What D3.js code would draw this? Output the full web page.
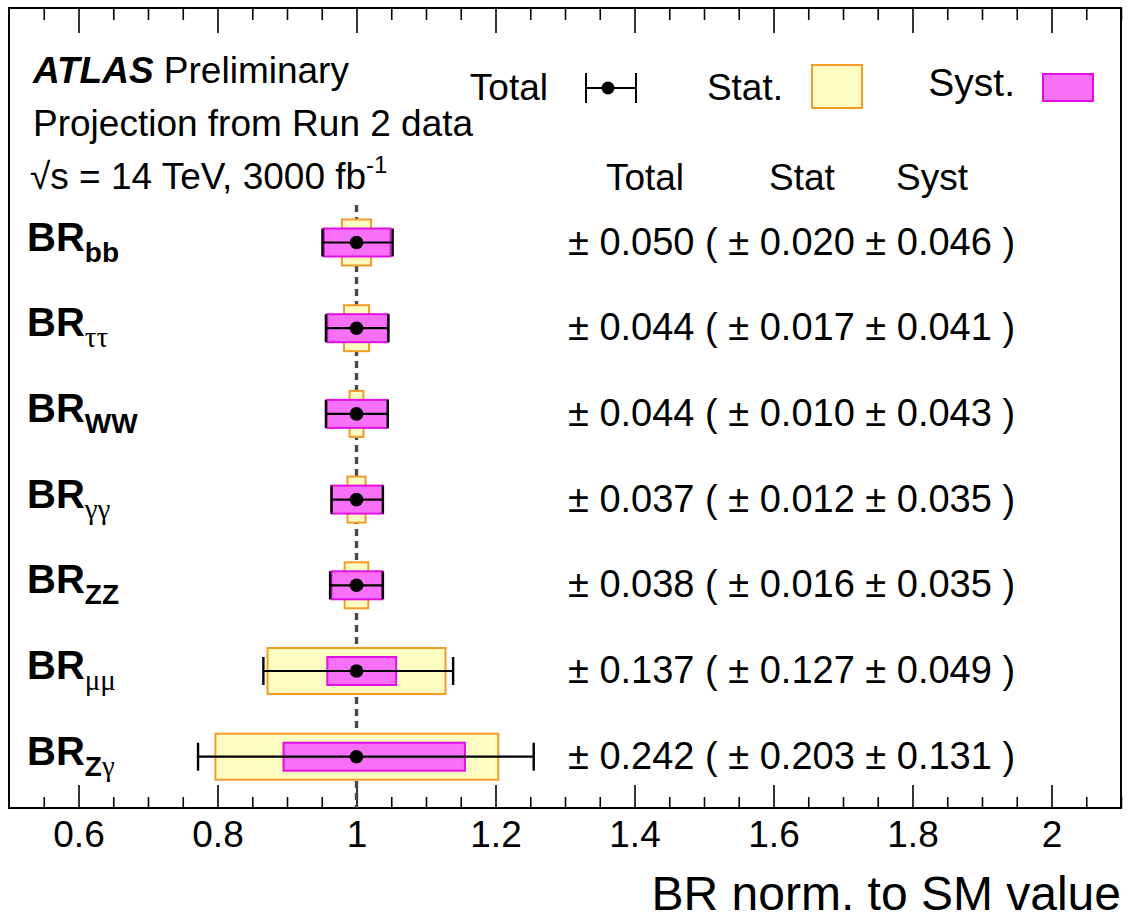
<!DOCTYPE html>
<html>
<head>
<meta charset="utf-8">
<script src="https://cdn.jsdelivr.net/npm/d3@7"></script>
<style>
  body { margin: 0; background: #fff; }
  svg text { font-family: "Liberation Sans", Arial, Helvetica, sans-serif; fill: #000; }
  .domain { display: none; }
</style>
</head>
<body>
<svg id="chart"></svg>
<script>
// 数据：各衰变道的投影不确定度
const channels = ["bb", "ττ", "WW", "γγ", "ZZ", "μμ", "Zγ"];
const central = [1, 1, 1, 1, 1, 1, 1];
const totalLo = [0.049, 0.044, 0.044, 0.036, 0.038, 0.134, 0.228];
const totalHi = [0.052, 0.046, 0.045, 0.038, 0.038, 0.139, 0.255];
const statLo = [0.021, 0.018, 0.010, 0.013, 0.017, 0.128, 0.203];
const statHi = [0.021, 0.018, 0.010, 0.013, 0.017, 0.128, 0.204];
const systLo = [0.047, 0.042, 0.043, 0.036, 0.036, 0.042, 0.105];
const systHi = [0.049, 0.045, 0.045, 0.038, 0.037, 0.057, 0.156];
const totalTxt = ["0.050", "0.044", "0.044", "0.037", "0.038", "0.137", "0.242"];
const statTxt = ["0.020", "0.017", "0.010", "0.012", "0.016", "0.127", "0.203"];
const systTxt = ["0.046", "0.041", "0.043", "0.035", "0.035", "0.049", "0.131"];
const majorTicks = [0.6, 0.8, 1, 1.2, 1.4, 1.6, 1.8, 2];

(function () {
  const W = 1128, H = 921;
  const frame = { left: 9, right: 1121, top: 8, bottom: 808 };
  const statColor = { fill: "#fdfdc2", stroke: "#f39a2a" };
  const systColor = { fill: "#f870f8", stroke: "#e010e0" };
  const fs = 37;

  const svg = d3.select("#chart").attr("width", W).attr("height", H);

  const x = d3.scaleLinear().domain([0.5, 2.1]).range([frame.left, frame.right]);
  const y = d3.scalePoint().domain(channels).range([242.5, 756.7]);

  // 次刻度
  const minorTicks = d3.range(11, 43).map((i) => +(i * 0.05).toFixed(2))
    .filter((v) => !majorTicks.some((m) => Math.abs(m - v) < 1e-6));

  // 下方坐标轴
  const bottomAxis = svg.append("g").attr("transform", `translate(0,${frame.bottom})`);
  bottomAxis.append("g")
    .call(d3.axisBottom(x).tickValues(minorTicks).tickSize(-11).tickFormat(""))
    .selectAll("line").attr("stroke", "#000").attr("stroke-width", 1.6);
  const bMajor = bottomAxis.append("g")
    .call(d3.axisBottom(x).tickValues(majorTicks).tickSize(-23).tickPadding(13)
      .tickFormat(d3.format("~g")));
  bMajor.selectAll("line").attr("stroke", "#000").attr("stroke-width", 1.6);
  bMajor.selectAll("text").attr("font-size", 37).attr("font-family", "Liberation Sans");

  // 上方坐标轴
  const topAxis = svg.append("g").attr("transform", `translate(0,${frame.top})`);
  topAxis.append("g")
    .call(d3.axisTop(x).tickValues(minorTicks).tickSize(-12).tickFormat(""))
    .selectAll("line").attr("stroke", "#000").attr("stroke-width", 1.6);
  topAxis.append("g")
    .call(d3.axisTop(x).tickValues(majorTicks).tickSize(-25).tickFormat(""))
    .selectAll("line").attr("stroke", "#000").attr("stroke-width", 1.6);

  // 外框
  svg.append("rect")
    .attr("x", frame.left).attr("y", frame.top)
    .attr("width", frame.right - frame.left).attr("height", frame.bottom - frame.top)
    .attr("fill", "none").attr("stroke", "#000").attr("stroke-width", 2);

  // SM 参考虚线
  svg.append("line")
    .attr("x1", x(1)).attr("x2", x(1))
    .attr("y1", 205).attr("y2", frame.bottom)
    .attr("stroke", "#4a4a4a").attr("stroke-width", 3.4).attr("stroke-dasharray", "7,5");

  const rows = channels.map((c, i) => ({
    c, v: central[i],
    tl: totalLo[i], th: totalHi[i],
    sl: statLo[i], sh: statHi[i],
    yl: systLo[i], yh: systHi[i],
  }));

  const g = svg.append("g");

  // Stat 框
  g.selectAll(".stat").data(rows).enter().append("rect")
    .attr("class", "stat")
    .attr("x", (d) => x(d.v - d.sl))
    .attr("width", (d) => x(d.v + d.sh) - x(d.v - d.sl))
    .attr("y", (d) => y(d.c) - 23).attr("height", 46)
    .attr("fill", statColor.fill).attr("stroke", statColor.stroke).attr("stroke-width", 2);

  // Syst 框
  g.selectAll(".syst").data(rows).enter().append("rect")
    .attr("class", "syst")
    .attr("x", (d) => x(d.v - d.yl))
    .attr("width", (d) => x(d.v + d.yh) - x(d.v - d.yl))
    .attr("y", (d) => y(d.c) - 14).attr("height", 28)
    .attr("fill", systColor.fill).attr("stroke", systColor.stroke).attr("stroke-width", 2);

  // 总误差棒
  g.selectAll(".tot").data(rows).enter().append("line")
    .attr("x1", (d) => x(d.v - d.tl)).attr("x2", (d) => x(d.v + d.th))
    .attr("y1", (d) => y(d.c)).attr("y2", (d) => y(d.c))
    .attr("stroke", "#000").attr("stroke-width", 2.2);
  ["tl", "th"].forEach((k) => {
    g.selectAll(".cap-" + k).data(rows).enter().append("line")
      .attr("x1", (d) => x(k === "tl" ? d.v - d.tl : d.v + d.th))
      .attr("x2", (d) => x(k === "tl" ? d.v - d.tl : d.v + d.th))
      .attr("y1", (d) => y(d.c) - 14).attr("y2", (d) => y(d.c) + 14)
      .attr("stroke", "#000").attr("stroke-width", 2.4);
  });
  g.selectAll(".pt").data(rows).enter().append("circle")
    .attr("cx", (d) => x(d.v)).attr("cy", (d) => y(d.c)).attr("r", 6.8).attr("fill", "#000");

  // 通道标签
  const isGreek = (ch) => /[\u0370-\u03ff]/.test(ch);
  rows.forEach((d) => {
    const t = svg.append("text").attr("x", 27).attr("y", y(d.c) + 8);
    t.append("tspan").attr("font-weight", "bold").attr("font-size", 40).text("BR");
    const chars = [...d.c];
    chars.forEach((ch, j) => {
      const s = t.append("tspan").attr("dy", j === 0 ? 11 : 0);
      if (isGreek(ch)) s.attr("font-family", "Liberation Serif").attr("font-size", 29).text(ch);
      else s.attr("font-weight", "bold").attr("font-size", 28).text(ch);
    });
  });

  // 数值文字
  rows.forEach((d, i) => {
    svg.append("text").attr("x", 568).attr("y", y(d.c) + 12)
      .attr("font-size", 38)
      .text(`\u00b1 ${totalTxt[i]} ( \u00b1 ${statTxt[i]} \u00b1 ${systTxt[i]} )`);
  });

  // 列标题
  [["Total", 645], ["Stat", 802], ["Syst", 932]].forEach(([s, cx]) => {
    svg.append("text").attr("x", cx).attr("y", 190).attr("text-anchor", "middle")
      .attr("font-size", fs).text(s);
  });

  // ATLAS 标签
  const h1 = svg.append("text").attr("x", 33).attr("y", 83).attr("font-size", fs);
  h1.append("tspan").attr("font-weight", "bold").attr("font-style", "italic").text("ATLAS");
  h1.append("tspan").text(" Preliminary");
  svg.append("text").attr("x", 33).attr("y", 136).attr("font-size", fs).text("Projection from Run 2 data");
  const h3 = svg.append("text").attr("x", 30).attr("y", 189).attr("font-size", fs);
  h3.append("tspan").text("\u221as = 14 TeV, 3000 fb");
  h3.append("tspan").attr("font-size", 24).attr("dy", -16).text("-1");

  // 图例
  svg.append("text").attr("x", 548).attr("y", 100).attr("text-anchor", "end")
    .attr("font-size", fs).text("Total");
  const lg = svg.append("g");
  lg.append("line").attr("x1", 586).attr("x2", 636).attr("y1", 88).attr("y2", 88)
    .attr("stroke", "#000").attr("stroke-width", 2);
  [586, 636].forEach((cx) => {
    lg.append("line").attr("x1", cx).attr("x2", cx).attr("y1", 73).attr("y2", 103)
      .attr("stroke", "#000").attr("stroke-width", 2);
  });
  lg.append("circle").attr("cx", 608).attr("cy", 88).attr("r", 6.5).attr("fill", "#000");
  svg.append("text").attr("x", 783).attr("y", 100).attr("text-anchor", "end")
    .attr("font-size", fs).text("Stat.");
  lg.append("rect").attr("x", 812).attr("y", 65).attr("width", 50).attr("height", 43)
    .attr("fill", statColor.fill).attr("stroke", statColor.stroke).attr("stroke-width", 2);
  svg.append("text").attr("x", 1015).attr("y", 96).attr("text-anchor", "end")
    .attr("font-size", 39).text("Syst.");
  lg.append("rect").attr("x", 1043).attr("y", 74).attr("width", 50).attr("height", 27)
    .attr("fill", systColor.fill).attr("stroke", systColor.stroke).attr("stroke-width", 2);

  // 横轴标题
  svg.append("text").attr("x", 1121).attr("y", 910).attr("text-anchor", "end")
    .attr("font-size", 48).text("BR norm. to SM value");
})();
</script>
</body>
</html>
